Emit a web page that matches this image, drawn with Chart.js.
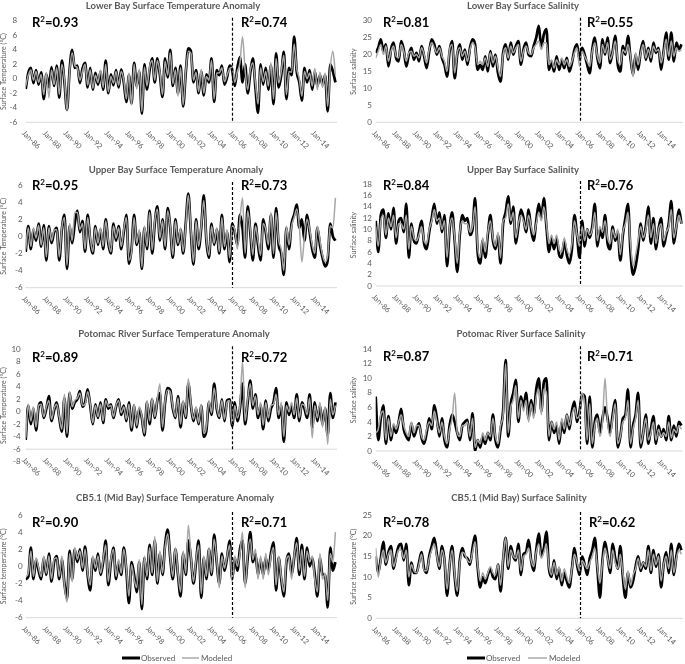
<!DOCTYPE html>
<html>
<head>
<meta charset="utf-8">
<script src="https://cdn.jsdelivr.net/npm/chart.js@4.4.1/dist/chart.umd.min.js"></script>
<style>
  html, body { margin: 0; padding: 0; background: #fff; }
  body { width: 685px; height: 664px; position: relative; overflow: hidden; }
  canvas { position: absolute; }
</style>
</head>
<body>
<canvas id="p0"></canvas>
<canvas id="p1"></canvas>
<canvas id="p2"></canvas>
<canvas id="p3"></canvas>
<canvas id="p4"></canvas>
<canvas id="p5"></canvas>
<canvas id="p6"></canvas>
<canvas id="p7"></canvas>
<script>
// Time axis: quarterly readings, Jan 1986 .. Jan 2016
const startYear = 1986;
const stepsPerYear = 4;
const xMax = 2016.15;
const splitYear = 2006;
const xTickYears = [1986, 1988, 1990, 1992, 1994, 1996, 1998, 2000, 2002, 2004, 2006, 2008, 2010, 2012, 2014];
const xTickLabels = ['Jan-86', 'Jan-88', 'Jan-90', 'Jan-92', 'Jan-94', 'Jan-96', 'Jan-98', 'Jan-00', 'Jan-02', 'Jan-04', 'Jan-06', 'Jan-08', 'Jan-10', 'Jan-12', 'Jan-14'];

const panelTitles = [
    'Lower Bay Surface Temperature Anomaly', 'Lower Bay Surface Salinity',
    'Upper Bay Surface Temperature Anomaly', 'Upper Bay Surface Salinity',
    'Potomac River Surface Temperature Anomaly', 'Potomac River Surface Salinity',
    'CB5.1 (Mid Bay) Surface Temperature Anomaly', 'CB5.1 (Mid Bay) Surface Salinity'
];
const yTitles = [
    'Surface Temperature (°C)', 'Surface salinity',
    'Surface Temperature (°C)', 'Surface salinity',
    'Surface Temperature (°C)', 'Surface salinity',
    'Surface temperature (°C)', 'Surface temperature (°C)'
];
const yMins = [-6, 0, -6, 0, -8, 0, -6, 0];
const yMaxs = [8, 30, 6, 18, 10, 14, 6, 25];
const ySteps = [2, 5, 2, 2, 2, 2, 2, 5];
const axisCross = [-6, 0, -6, 0, -6, 0, -6, 0];
const r2Calibration = ['0.93', '0.81', '0.95', '0.84', '0.89', '0.87', '0.90', '0.78'];
const r2Validation = ['0.74', '0.55', '0.73', '0.76', '0.72', '0.71', '0.71', '0.62'];
const seriesNames = ['Observed', 'Modeled'];

// Lower Bay temperature anomaly
const obsLowerBayTemp = [
    -1.4, 0.8, 1.5, -0.6,  1.2, -0.8, 0.9, -2.8,
    0.6, -1.2, 1.6, -1.0,  1.8, -2.6, 2.5, -0.4,
    -4.3, 1.2, 4.0, 1.5,   1.8, -0.6, 1.4, 2.2,
    -1.2, 1.5, -1.5, 0.8,  -0.8, 1.0, -1.5, 2.5,
    -2.0, 0.6, -0.9, 1.2,  -1.2, 1.3, -0.5, -3.2,
    0.5, -3.4, 2.2, -1.0,  1.0, -4.8, 2.0, -1.5,
    1.2, 2.8, -0.5, 2.8,   0.5, -2.5, 2.8, 0.2,
    4.0, -1.0, 1.5, -2.0,  1.8, -3.8, 0.8, 4.2,
    3.8, -0.5, 1.2, -2.0,  1.0, -2.3, 0.6, -0.5,
    2.8, -3.2, 1.2, 0.5,   1.8, -0.8, 0.2, 1.8,
    1.2, -1.0, 1.5, 3.0,   -0.5, 2.0, -2.0, 0.8,
    2.8, -1.2, -4.7, 2.0,  -0.8, 1.5, -1.5, 1.8,
    -3.5, 3.5, -1.2, 0.5,  3.7, -2.8, 1.5, 0.5,
    5.8, 1.0, -0.5, -3.0,  1.5, -0.5, 1.2, -1.5,
    1.0, -1.0, 0.5, -0.8,  0.5, -4.5, 2.0, 1.0, -0.5
];
const modLowerBayTemp = [
    -1.0, 0.5, 1.2, -0.2,  1.0, -0.5, 0.6, -2.2,
    0.9, -2.6, 1.2, -0.8,  1.5, -2.2, 2.0, 0.0,
    -4.4, 1.0, 3.6, 1.8,   1.5, -0.2, 1.0, 2.0,
    -0.9, 1.2, -1.3, 0.5,  -0.5, 1.2, -1.2, 2.0,
    -1.8, 0.3, -0.6, 1.0,  -0.9, 1.0, -0.2, -2.8,
    0.8, -3.6, 2.0, -1.4,  1.3, -4.5, 1.6, -1.0,
    1.6, 2.5, -0.2, 2.5,   0.8, -2.2, 2.4, 0.5,
    3.6, -0.7, 1.2, -2.4,  1.5, -3.6, 1.0, 3.8,
    3.5, -0.2, 0.9, -1.8,  1.3, -2.0, 0.3, -0.2,
    2.5, -2.8, 0.8, 0.8,   1.5, -0.4, 0.5, 1.4,
    1.6, -0.5, 1.0, 2.2,   5.8, 1.2, -1.5, 1.2,
    2.2, -0.6, -3.5, 1.5,  -0.4, 1.0, -1.0, 2.2,
    -2.8, 2.8, -0.6, 1.0,  3.2, -2.2, 1.0, 0.9,
    4.8, 1.4, 0.0, -2.4,   1.0, 0.0, 0.8, -1.0,
    1.4, -1.5, 0.9, -1.2,  0.8, -3.8, 1.5, 3.8, 0.5
];

// Lower Bay salinity
const obsLowerBaySal = [
    20.5, 22.0, 24.5, 21.0,  23.0, 16.5, 21.5, 23.5,
    19.0, 18.0, 24.0, 21.5,  16.5, 20.0, 22.0, 18.5,
    20.5, 18.0, 22.5, 19.5,  16.0, 21.0, 24.5, 23.0,
    20.0, 22.5, 19.0, 17.0,  13.5, 21.0, 24.0, 13.0,
    20.0, 23.0, 18.5, 21.5,  17.0, 22.0, 24.5, 23.0,
    15.5, 17.0, 15.5, 19.5,  15.0, 21.0, 16.5, 20.0,
    14.5, 12.0, 20.5, 23.0,  18.5, 23.5, 20.0, 22.5,
    24.0, 17.0, 21.5, 23.5,  20.0, 19.5, 22.5, 25.0,
    28.5, 22.0, 26.0, 27.5,  15.5, 18.0, 15.0, 19.5,
    15.5, 18.5, 16.0, 19.0,  15.0, 17.5, 21.5, 23.0,
    18.5, 22.0, 20.0, 17.0,  14.5, 21.5, 25.0, 19.0,
    16.0, 24.5, 20.0, 25.0,  17.5, 21.0, 25.5, 17.0,
    15.0, 22.5, 20.0, 25.5,  19.0, 14.0, 20.0, 15.5,
    21.0, 24.0, 18.5, 22.0,  18.0, 23.5, 20.5, 22.0,
    15.5, 21.0, 26.5, 18.5,  26.5, 18.0, 23.5, 21.5, 23.0
];
const modLowerBaySal = [
    19.0, 21.0, 23.0, 20.0,  22.5, 18.0, 21.0, 22.5,
    19.5, 19.0, 23.0, 21.0,  18.0, 20.5, 21.0, 19.5,
    20.0, 19.0, 22.0, 20.0,  17.5, 21.5, 23.5, 22.0,
    20.5, 22.0, 19.5, 18.0,  15.0, 21.5, 23.0, 14.5,
    20.5, 22.0, 19.5, 21.0,  18.0, 21.5, 23.5, 22.0,
    17.0, 18.0, 17.0, 19.0,  16.5, 20.5, 17.5, 19.5,
    16.0, 13.5, 20.0, 22.0,  19.0, 22.5, 20.5, 22.0,
    23.0, 18.0, 21.0, 22.5,  20.5, 20.0, 22.0, 23.0,
    24.0, 21.5, 23.5, 23.5,  17.0, 18.5, 16.0, 18.5,
    17.0, 19.0, 17.0, 18.5,  16.5, 18.0, 20.5, 22.0,
    16.5, 21.0, 19.5, 18.0,  16.5, 21.0, 23.5, 19.5,
    17.5, 23.0, 20.5, 23.5,  18.5, 20.5, 24.0, 18.5,
    17.0, 21.5, 20.5, 23.0,  19.5, 13.5, 20.5, 17.0,
    20.5, 23.0, 19.0, 21.5,  19.0, 22.5, 21.0, 21.5,
    17.5, 20.5, 24.5, 19.5,  24.0, 19.5, 22.0, 21.0, 21.5
];

// Upper Bay temperature anomaly
const obsUpperBayTemp = [
    -1.8, 1.2, -1.5, 0.8,  -0.5, 1.5, -1.2, 1.3,
    -2.8, 1.2, -0.8, 0.5,  1.0, -2.8, 0.8, 2.5,
    -3.8, 1.2, -0.8, 1.5,  3.0, 0.5, 1.8, -1.8,
    2.5, -0.5, -2.0, 1.2,  -1.0, 0.8, -1.5, 2.0,
    -0.8, -2.0, 1.5, -0.5,  1.2, -1.5, 0.5, 2.5,
    -3.2, -1.5, 2.5, -1.0,  0.5, -3.8, 1.0, -1.5,
    3.0, -2.0, 1.5, 3.5,   -0.5, 2.0, -1.5, 3.3,
    1.0, -2.5, 2.0, -1.0,  0.8, -2.0, 1.5, 5.0,
    0.5, -3.3, 2.0, -1.5,  1.0, 4.8, -0.5, -2.5,
    1.5, -1.0, 0.8, -2.0,  2.5, -1.5, 0.5, -3.0,
    1.5, 0.5, -1.0, 2.5,   1.0, -2.5, 3.5, 0.5,
    -2.8, 1.5, -1.0, -2.8,  2.0, 0.5, -1.5, 2.5,
    -2.5, 3.3, -1.0, -2.0,  -4.5, 1.0, -1.5, 1.5,
    2.5, 3.7, 1.0, 2.0,    -0.5, 2.5, 0.5, -1.5,
    -2.5, 1.0, -1.0, -2.5,  -3.5, -2.8, 1.5, 0.0, -0.5
];
const modUpperBayTemp = [
    -1.5, 1.0, -1.2, 1.0,  -0.2, 1.3, -1.0, 1.0,
    -2.4, 1.0, -0.5, 0.7,  0.8, -2.4, 1.0, 2.2,
    -3.4, 1.5, -0.5, 2.8,  2.8, 0.8, 1.5, -1.5,
    2.2, -0.2, -1.8, 1.0,  -0.8, 1.0, -1.2, 1.8,
    -0.5, -1.8, 1.2, -0.2,  1.0, -1.2, 0.8, 2.2,
    -2.8, -1.8, 2.2, -0.8,  0.8, -3.6, 1.2, -1.2,
    2.8, -1.6, 1.8, 3.2,   -0.2, 1.8, -1.2, 3.0,
    1.2, -2.2, 1.8, -0.8,  1.0, -1.8, 1.2, 4.8,
    0.8, -3.0, 1.8, -1.2,  1.2, 4.2, -0.2, -2.2,
    1.2, -0.8, 1.0, -1.8,  2.2, -1.2, 0.8, -2.5,
    1.2, 0.8, -1.5, 2.0,   4.5, -2.0, 3.0, 0.8,
    -2.2, 1.2, -0.5, -2.2,  1.5, 0.8, -1.0, 2.8,
    -2.0, 2.8, -0.5, -1.5,  -4.0, 1.2, -1.0, 1.2,
    2.2, 3.2, 1.2, -3.0,   0.0, 2.0, 0.8, -1.0,
    -2.0, 1.2, -0.5, -2.2,  -3.0, -2.2, 1.2, 1.0, 4.5
];

// Upper Bay salinity
const obsUpperBaySal = [
    11.5, 6.0, 12.5, 13.5,  8.5, 12.8, 10.0, 13.8,
    7.5, 11.5, 12.0, 9.5,   14.5, 5.0, 11.0, 8.0,
    7.5, 9.5, 11.5, 7.5,    6.5, 9.5, 12.0, 14.5,
    11.0, 13.0, 9.5, 12.5,  3.5, 10.0, 13.0, 8.0,
    2.5, 9.0, 12.5, 11.5,   12.0, 9.0, 10.0, 15.5,
    6.0, 4.0, 8.0, 5.0,     9.0, 12.5, 8.0, 6.5,
    9.0, 4.0, 11.0, 13.0,   15.8, 11.0, 14.0, 7.5,
    10.5, 13.5, 12.0, 9.5,  13.5, 10.0, 8.0, 11.5,
    14.5, 12.0, 15.5, 10.5, 6.0, 8.5, 6.5, 8.5,
    5.5, 5.0, 8.0, 5.5,     4.0, 6.5, 12.5, 9.0,
    5.0, 11.5, 7.0, 10.0,   8.5, 10.5, 14.5, 7.0,
    10.0, 8.5, 12.5, 7.5,   6.5, 10.5, 8.0, 9.5,
    4.5, 9.0, 12.0, 14.5,   6.0, 2.0, 3.5, 6.5,
    11.0, 8.0, 10.5, 14.0,  7.5, 12.0, 6.5, 10.0,
    12.0, 7.0, 9.0, 11.0,   15.0, 7.5, 10.5, 13.5, 11.0
];
const modUpperBaySal = [
    10.5, 7.0, 11.5, 12.5,  9.0, 12.0, 10.5, 12.5,
    8.5, 11.0, 11.0, 10.0,  12.5, 6.5, 10.5, 8.5,
    8.0, 9.0, 10.5, 8.0,    7.5, 10.0, 11.5, 13.5,
    11.5, 12.0, 10.0, 11.5, 5.0, 10.5, 12.0, 8.5,
    4.0, 9.5, 11.5, 11.0,   11.0, 9.5, 10.5, 14.0,
    7.0, 5.0, 8.5, 6.0,     9.5, 11.5, 8.5, 7.0,
    9.5, 5.0, 11.5, 12.0,   14.5, 11.5, 13.0, 8.5,
    11.0, 12.5, 11.5, 10.0, 12.5, 10.5, 9.0, 11.0,
    13.0, 11.5, 14.0, 11.0, 7.5, 9.0, 7.5, 9.0,
    6.5, 6.0, 8.5, 6.5,     5.5, 7.5, 11.5, 9.0,
    7.0, 10.5, 8.0, 10.0,   9.0, 10.0, 13.0, 8.0,
    10.5, 9.5, 11.5, 8.5,   7.5, 10.0, 8.5, 10.0,
    5.5, 9.5, 11.0, 13.0,   7.5, 3.5, 5.5, 8.0,
    10.5, 8.5, 10.0, 12.5,  8.5, 11.0, 7.5, 10.0,
    11.0, 8.0, 9.5, 10.5,   13.5, 8.5, 10.5, 12.5, 11.0
];

// Potomac River temperature anomaly
const obsPotomacTemp = [
    -4.5, 1.0, -2.0, 0.5,  -3.0, 0.8, 1.5, -1.0,
    0.5, 2.5, -1.5, 0.2,   1.5, -1.0, -3.2, 2.2,
    -4.0, 3.0, 0.5, 1.5,   2.0, 3.3, 0.8, 1.5,
    3.6, 1.0, -2.0, 1.2,   -1.0, 1.5, -1.8, 2.0,
    0.5, 1.2, -1.0, 0.8,   2.0, -0.5, 1.0, -1.5,
    1.5, -3.0, 1.0, -2.5,  0.5, -1.0, -3.8, 1.5,
    -2.0, 2.0, -1.0, 1.8,  3.0, -3.0, 1.5, 3.8,
    3.5, 0.5, -1.0, 2.5,   -2.5, 1.5, -1.0, 4.5,
    1.0, -1.5, 0.5, -2.0,  1.0, -4.0, -3.0, 1.5,
    -0.5, 4.5, 0.5, -1.0,  2.0, -1.5, 1.8, 2.0,
    -2.3, 1.5, -1.5, 0.5,  4.5, -2.0, 1.5, 5.0,
    0.5, 2.8, -1.0, 1.0,   -2.8, 1.8, -1.5, 0.5,
    1.5, 3.8, -1.0, 1.0,   -4.8, 1.5, -0.5, 1.0,
    -1.0, 2.8, -1.5, 1.5,  0.5, -1.0, 2.8, -2.5,
    1.5, -1.5, 1.0, -2.0,  0.5, -3.8, 3.0, -1.0, 1.5
];
const modPotomacTemp = [
    -4.2, 1.2, -1.5, 0.8,  -2.5, 1.0, 1.2, -0.8,
    0.8, 1.8, -1.2, 0.5,   1.2, -0.8, -2.8, 2.8,
    -3.5, 3.2, 0.8, 1.8,   2.2, 3.0, 1.0, 1.2,
    3.2, 1.2, -1.8, 1.0,   -0.8, 1.2, -1.5, 1.8,
    0.8, 1.0, -0.8, 1.0,   1.8, -0.2, 0.8, -1.2,
    1.2, -2.6, 1.2, -2.2,  0.8, -0.8, -3.5, 1.8,
    -1.5, 2.2, -0.8, 2.0,  4.5, -2.5, 1.8, 3.5,
    3.2, 0.8, -0.8, 2.2,   -2.0, 1.8, -0.8, 5.3,
    1.2, -1.2, 0.8, -1.8,  1.2, -3.5, -2.5, 1.8,
    -0.2, 3.8, 0.8, -0.8,  1.8, -1.2, 1.5, 1.8,
    -2.0, 1.0, -1.0, 1.0,  8.0, -1.5, 2.0, 4.5,
    1.0, 2.5, -0.5, 1.5,   -2.2, 1.5, -1.0, 1.0,
    1.2, 2.8, -0.5, 1.5,   -4.0, 1.0, 0.0, 1.5,
    -0.5, 2.2, -1.0, 1.2,  1.0, -0.5, 2.2, -4.2,
    1.0, -1.0, 1.5, -2.5,  0.8, -5.2, 2.0, -0.5, 1.0
];

// Potomac River salinity
const obsPotomacSal = [
    7.5, 1.5, 4.5, 6.3,  1.0, 4.8, 1.5, 3.5,
    2.5, 4.0, 5.8, 3.0,  2.0, 1.5, 3.8, 2.0,
    3.0, 3.8, 1.8, 1.0,  2.5, 4.5, 3.0, 6.3,
    4.5, 2.0, 4.5, 1.5,  0.5, 3.5, 5.0, 4.0,
    2.5, 1.5, 3.5, 4.0,  4.3, 1.5, 5.2, 0.0,
    1.5, 0.5, 2.0, 1.0,  2.5, 1.5, 5.0, 1.5,
    0.5, 3.0, 5.5, 12.5, 2.0, 6.5, 8.0, 9.8,
    4.0, 7.5, 6.0, 8.0,  4.5, 7.0, 5.0, 8.5,
    10.0, 5.5, 9.5, 10.0, 1.5, 4.0, 2.5, 3.5,
    1.0, 4.0, 2.5, 5.0,  3.0, 5.5, 6.8, 4.0,
    5.5, 7.8, 7.5, 1.0,  7.5, 0.5, 4.0, 5.0,
    2.5, 4.5, 6.0, 4.5,  2.5, 5.0, 7.0, 0.5,
    2.0, 4.5, 5.0, 8.5,  0.5, 3.5, 5.0, 8.0,
    0.5, 2.5, 5.0, 1.0,  3.0, 4.8, 1.0, 3.5,
    2.0, 3.0, 1.5, 4.8,  1.5, 3.5, 2.0, 4.0, 3.5
];
const modPotomacSal = [
    2.5, 3.0, 5.0, 5.5,  1.5, 4.5, 2.0, 3.8,
    3.0, 4.0, 5.0, 3.5,  2.5, 2.0, 4.0, 2.5,
    3.5, 3.5, 2.0, 1.5,  3.0, 4.0, 3.5, 5.5,
    4.0, 2.5, 4.0, 2.0,  1.0, 3.0, 4.5, 8.0,
    2.5, 2.0, 3.5, 3.5,  4.0, 2.0, 4.5, 0.5,
    1.5, 1.0, 2.5, 1.5,  2.5, 2.0, 4.5, 2.0,
    1.0, 3.5, 5.0, 12.0, 2.5, 6.0, 7.0, 9.0,
    4.5, 7.0, 5.5, 7.0,  4.0, 6.5, 4.5, 7.5,
    8.5, 5.0, 8.5, 8.0,  2.0, 4.0, 3.0, 4.0,
    1.5, 4.5, 3.0, 5.0,  3.5, 5.0, 6.0, 4.5,
    5.0, 8.0, 6.5, 1.5,  6.5, 1.0, 3.5, 4.5,
    2.0, 4.0, 10.0, 4.0, 2.0, 4.5, 6.5, 1.0,
    2.0, 4.0, 4.5, 7.0,  1.0, 3.0, 4.5, 7.0,
    1.0, 2.5, 4.5, 1.5,  2.5, 4.0, 1.5, 3.0,
    2.0, 2.5, 2.0, 4.0,  1.8, 3.0, 2.5, 3.5, 3.0
];

// CB5.1 (Mid Bay) temperature anomaly
const obsMidBayTemp = [
    -1.5, -1.2, 2.2, -1.5,  0.8, -0.5, -1.5, 1.0,
    -1.0, 1.5, -1.8, 0.5,   1.2, -1.5, 0.8, -2.0,
    -3.8, 1.8, -1.5, 2.0,   0.5, 2.0, -0.5, 2.3,
    -1.0, -2.8, 1.0, -0.5,  1.5, -1.0, 0.5, 3.0,
    -2.2, 0.5, 2.2, -1.5,   0.5, -1.0, 2.2, -0.5,
    -4.3, 0.5, -1.0, -3.0,  0.5, -5.0, 1.0, -1.5,
    2.5, -1.0, 3.0, -2.0,   1.5, -1.0, 2.5, 4.3,
    1.0, -1.5, 2.0, -1.0,   -3.5, 1.5, -1.0, 3.0,
    1.0, -2.0, 0.5, 3.0,    -3.7, 1.0, -1.5, 2.0,
    -1.0, 3.7, 0.5, -2.0,   1.5, -0.5, 1.0, 3.0,
    -1.5, 1.0, -0.5, 2.0,   3.0, -2.0, 1.0, 4.0,
    0.5, 1.5, -1.0, 0.8,    -1.0, 1.0, -0.5, 1.5,
    2.8, -2.8, 1.0, -1.5,   -3.5, 0.5, 1.5, -1.0,
    1.0, 3.3, -1.0, 2.5,    -1.5, 2.2, 0.0, 1.0,
    -1.0, -3.5, 1.0, -1.0,  -1.0, -4.8, 2.2, -0.5, 0.5
];
const modMidBayTemp = [
    -1.2, -0.8, 1.8, -1.2,  1.0, -0.2, -1.2, 1.2,
    -0.8, 1.2, -1.5, 0.8,   1.0, -1.2, 1.2, -2.2,
    -4.2, 1.5, -1.8, 2.2,   0.8, 1.8, -0.2, 2.0,
    -0.8, -2.2, 1.2, -0.2,  1.2, -0.8, 0.8, 2.5,
    -1.8, 0.8, 2.0, -1.2,   0.8, -0.8, 2.0, -0.2,
    -3.5, 0.2, -1.5, -2.5,  0.8, -4.5, 1.2, -1.2,
    2.2, -0.8, 3.5, -1.8,   1.8, -0.8, 2.2, 3.8,
    1.2, -1.2, 2.2, -0.8,   -3.0, 1.8, -0.8, 4.8,
    1.2, -1.8, 0.8, 2.5,    -3.2, 1.2, -1.2, 2.2,
    -0.8, 3.2, 0.8, -2.5,   1.2, -0.2, 1.2, 2.5,
    -1.8, 1.2, 0.0, 1.5,    4.0, -2.5, 1.5, 3.2,
    0.8, 2.0, -1.5, 1.2,    -1.5, 1.5, -1.0, 1.2,
    2.2, -2.2, 1.2, -1.2,   -3.0, 0.8, 1.2, -1.5,
    1.2, 2.8, -0.5, 2.0,    -1.2, 1.8, 0.5, 1.2,
    -1.5, -3.0, 1.5, -1.5,  -0.8, -4.0, 1.5, 0.5, 4.0
];

// CB5.1 (Mid Bay) salinity
const obsMidBaySal = [
    15.0, 11.0, 14.5, 18.5,  13.0, 16.0, 17.5, 12.0,
    15.0, 17.5, 18.0, 14.0,  18.0, 8.0, 13.5, 11.0,
    11.0, 13.5, 16.0, 12.0,  11.0, 15.0, 17.5, 19.5,
    15.5, 12.0, 17.5, 14.0,  5.5, 13.0, 17.5, 10.0,
    5.5, 14.0, 17.0, 15.0,   14.5, 13.0, 17.0, 20.0,
    12.5, 7.5, 10.0, 8.5,    10.5, 12.0, 10.0, 9.5,
    13.0, 6.5, 14.0, 19.5,   12.0, 17.5, 15.0, 14.0,
    18.0, 10.5, 15.5, 16.0,  19.0, 14.0, 11.5, 16.5,
    20.5, 15.0, 17.0, 21.0,  12.0, 10.0, 14.0, 9.5,
    12.0, 8.0, 11.0, 9.0,    7.5, 12.0, 17.0, 13.0,
    10.5, 15.0, 13.0, 10.5,  14.5, 16.5, 19.5, 12.0,
    5.0, 14.0, 18.5, 15.0,   11.0, 18.0, 14.5, 12.0,
    17.5, 10.0, 5.0, 11.0,   7.5, 9.0, 12.5, 15.0,
    11.5, 13.5, 12.0, 17.5,  11.0, 16.5, 12.5, 15.5,
    7.5, 13.0, 16.0, 11.0,   18.0, 10.5, 15.0, 18.0, 16.5
];
const modMidBaySal = [
    17.0, 10.0, 14.0, 16.5,  13.5, 15.5, 16.5, 12.5,
    14.5, 16.5, 16.5, 14.5,  16.5, 10.0, 13.0, 11.5,
    11.0, 13.0, 15.5, 11.5,  11.5, 14.5, 16.5, 18.0,
    15.0, 12.5, 16.5, 14.0,  7.0, 13.0, 16.5, 10.5,
    6.5, 13.5, 16.0, 15.5,   14.0, 13.5, 16.0, 18.5,
    13.0, 9.0, 11.0, 9.5,    11.0, 12.5, 11.0, 10.5,
    13.0, 8.0, 14.5, 19.5,   12.5, 16.5, 15.0, 14.5,
    16.5, 11.5, 15.0, 15.5,  17.0, 14.0, 12.5, 16.0,
    18.0, 14.5, 16.0, 18.0,  12.5, 10.5, 13.5, 10.5,
    12.5, 9.0, 12.0, 10.0,   8.5, 12.0, 15.5, 13.5,
    11.5, 14.0, 13.0, 12.0,  13.5, 15.0, 17.0, 12.5,
    8.5, 13.5, 17.0, 14.5,   12.0, 16.5, 13.5, 12.0,
    15.5, 11.0, 7.0, 11.5,   8.0, 10.5, 12.0, 14.5,
    12.0, 13.5, 12.5, 16.5,  11.5, 15.5, 13.0, 15.0,
    9.0, 13.0, 15.0, 12.0,   16.5, 11.0, 14.5, 16.5, 15.5
];

const observedSeries = [obsLowerBayTemp, obsLowerBaySal, obsUpperBayTemp, obsUpperBaySal,
    obsPotomacTemp, obsPotomacSal, obsMidBayTemp, obsMidBaySal];
const modeledSeries = [modLowerBayTemp, modLowerBaySal, modUpperBayTemp, modUpperBaySal,
    modPotomacTemp, modPotomacSal, modMidBayTemp, modMidBaySal];

// Page layout (pixels) - canvas box [left, top, width, height], plot [left, right, top, bottom]
const layout = [
    { box: [0, 0, 342, 162], plot: [25.7, 337, 20.7, 122.3], tickPad: 8.5, titleX: 173, titleY: 5.5, r2X: [32, 241], r2Y: 26.5 },
    { box: [345, 0, 340, 162], plot: [375.7, 683, 20.7, 122.3], tickPad: 3.7, titleX: 523, titleY: 5.5, r2X: [383, 587], r2Y: 26.5 },
    { box: [0, 162, 342, 163], plot: [25.7, 337, 185, 287.7], tickPad: 3, titleX: 176, titleY: 170, r2X: [32, 241], r2Y: 190 },
    { box: [345, 162, 340, 163], plot: [375.7, 683, 184, 286], tickPad: 3.7, titleX: 523, titleY: 170, r2X: [383, 587], r2Y: 189.5 },
    { box: [0, 325, 342, 165], plot: [25.7, 337, 349.3, 461.7], tickPad: 5, titleX: 174, titleY: 334, r2X: [32, 241], r2Y: 361.5 },
    { box: [345, 325, 340, 165], plot: [375.7, 683, 349.3, 451], tickPad: 3.7, titleX: 521, titleY: 334, r2X: [383, 587], r2Y: 361 },
    { box: [0, 490, 342, 174], plot: [25.7, 337, 515, 617.7], tickPad: 3, titleX: 175, titleY: 498, r2X: [32, 241], r2Y: 527,
      legend: [122, 140, 141, 182, 199, 201], legendY: 658 },
    { box: [345, 490, 340, 174], plot: [375.7, 683, 515, 618.3], tickPad: 3.7, titleX: 519, titleY: 498, r2X: [383, 589], r2Y: 526.5,
      legend: [467, 485, 486, 528, 547, 549], legendY: 658 }
];

const FONT = 'Lato, "Open Sans", sans-serif';
const GREY_TEXT = '#595959';
const OBS_COLOR = '#000000';
const MOD_COLOR = '#a6a6a6';

function drawR2(ctx, x, y, value) {
    ctx.fillStyle = '#000';
    ctx.textAlign = 'left';
    ctx.textBaseline = 'alphabetic';
    ctx.font = 'bold 13px ' + FONT;
    ctx.fillText('R', x, y);
    let w = ctx.measureText('R').width;
    ctx.font = 'bold 8px ' + FONT;
    ctx.fillText('2', x + w, y - 5);
    w += ctx.measureText('2').width;
    ctx.font = 'bold 13px ' + FONT;
    ctx.fillText('=' + value, x + w, y);
}

// Plugin: axis line, split line, x labels, titles, R2 and legend
const panelDecor = {
    id: 'panelDecor',
    beforeDatasetsDraw(chart, args, opts) {
        const { ctx, chartArea, scales } = chart;
        const axisY = scales.y.getPixelForValue(opts.cross);
        ctx.save();
        ctx.strokeStyle = '#d9d9d9';
        ctx.lineWidth = 1;
        ctx.beginPath();
        ctx.moveTo(chartArea.left, axisY);
        ctx.lineTo(chartArea.right, axisY);
        ctx.stroke();
        ctx.restore();
    },
    afterDatasetsDraw(chart, args, opts) {
        const { ctx, chartArea, scales } = chart;
        const lay = opts.lay;
        const ox = lay.box[0], oy = lay.box[1];
        const axisY = scales.y.getPixelForValue(opts.cross);
        ctx.save();

        // calibration / validation split
        const sx = Math.round(scales.x.getPixelForValue(splitYear)) + 0.5;
        ctx.strokeStyle = '#000';
        ctx.lineWidth = 1.2;
        ctx.setLineDash([3, 2]);
        ctx.beginPath();
        ctx.moveTo(sx, chartArea.top - 3);
        ctx.lineTo(sx, axisY);
        ctx.stroke();
        ctx.setLineDash([]);

        // rotated date labels
        ctx.fillStyle = GREY_TEXT;
        ctx.font = '7.5px ' + FONT;
        ctx.textAlign = 'left';
        ctx.textBaseline = 'middle';
        xTickYears.forEach((yr, i) => {
            const px = scales.x.getPixelForValue(yr);
            ctx.save();
            ctx.translate(px - 2.5, axisY + 9.5);
            ctx.rotate(Math.PI / 4);
            ctx.fillText(xTickLabels[i], 0, 0);
            ctx.restore();
        });

        // panel title
        ctx.font = 'bold 9.5px ' + FONT;
        ctx.textAlign = 'center';
        ctx.textBaseline = 'middle';
        ctx.fillText(opts.title, lay.titleX - ox, lay.titleY - oy);

        // R squared
        drawR2(ctx, lay.r2X[0] - ox, lay.r2Y - oy, opts.r2[0]);
        drawR2(ctx, lay.r2X[1] - ox, lay.r2Y - oy, opts.r2[1]);

        // legend
        if (lay.legend) {
            const L = lay.legend.map(v => v - ox);
            const ly = lay.legendY - oy;
            ctx.lineWidth = 3;
            ctx.strokeStyle = OBS_COLOR;
            ctx.beginPath(); ctx.moveTo(L[0], ly); ctx.lineTo(L[1], ly); ctx.stroke();
            ctx.lineWidth = 2;
            ctx.strokeStyle = '#bfbfbf';
            ctx.beginPath(); ctx.moveTo(L[3], ly); ctx.lineTo(L[4], ly); ctx.stroke();
            ctx.fillStyle = GREY_TEXT;
            ctx.font = '8px ' + FONT;
            ctx.textAlign = 'left';
            ctx.textBaseline = 'middle';
            ctx.fillText(seriesNames[0], L[2], ly);
            ctx.fillText(seriesNames[1], L[5], ly);
        }
        ctx.restore();
    }
};

function toPoints(values) {
    return values.map((v, i) => ({ x: startYear + i / stepsPerYear, y: v }));
}

function buildPanel(k) {
    const lay = layout[k];
    const [bl, bt, bw, bh] = lay.box;
    const [pl, pr, pt, pb] = lay.plot;
    const canvas = document.getElementById('p' + k);
    canvas.width = bw;
    canvas.height = bh;
    canvas.style.left = bl + 'px';
    canvas.style.top = bt + 'px';
    canvas.style.width = bw + 'px';
    canvas.style.height = bh + 'px';
    const axisWidth = pl - bl;
    const titlePad = k % 2 === 0 ? 0 : 4.1;

    new Chart(canvas.getContext('2d'), {
        type: 'line',
        data: {
            datasets: [
                {
                    label: seriesNames[1],
                    data: toPoints(modeledSeries[k]),
                    borderColor: MOD_COLOR,
                    borderWidth: 1.5,
                    pointRadius: 0,
                    cubicInterpolationMode: 'monotone',
                    order: 0
                },
                {
                    label: seriesNames[0],
                    data: toPoints(observedSeries[k]),
                    borderColor: OBS_COLOR,
                    borderWidth: 2.7,
                    pointRadius: 0,
                    cubicInterpolationMode: 'monotone',
                    order: 1
                }
            ]
        },
        options: {
            responsive: false,
            animation: false,
            devicePixelRatio: 1,
            layout: {
                padding: { left: 0, top: pt - bt, right: bl + bw - pr, bottom: bt + bh - pb }
            },
            plugins: {
                legend: { display: false },
                tooltip: { enabled: false },
                panelDecor: {
                    lay: lay,
                    cross: axisCross[k],
                    title: panelTitles[k],
                    r2: [r2Calibration[k], r2Validation[k]]
                }
            },
            scales: {
                x: {
                    type: 'linear',
                    display: false,
                    min: startYear,
                    max: xMax
                },
                y: {
                    min: yMins[k],
                    max: yMaxs[k],
                    afterFit: s => { s.width = axisWidth; },
                    ticks: {
                        stepSize: ySteps[k],
                        autoSkip: false,
                        color: GREY_TEXT,
                        padding: lay.tickPad,
                        font: { family: FONT, size: 8 }
                    },
                    grid: { display: false, drawTicks: false },
                    border: { display: false },
                    title: {
                        display: true,
                        text: yTitles[k],
                        color: GREY_TEXT,
                        font: { family: FONT, size: 7 },
                        padding: { top: titlePad, bottom: 0 }
                    }
                }
            }
        },
        plugins: [panelDecor]
    });
}

for (let k = 0; k < 8; k++) buildPanel(k);
</script>
</body>
</html>
